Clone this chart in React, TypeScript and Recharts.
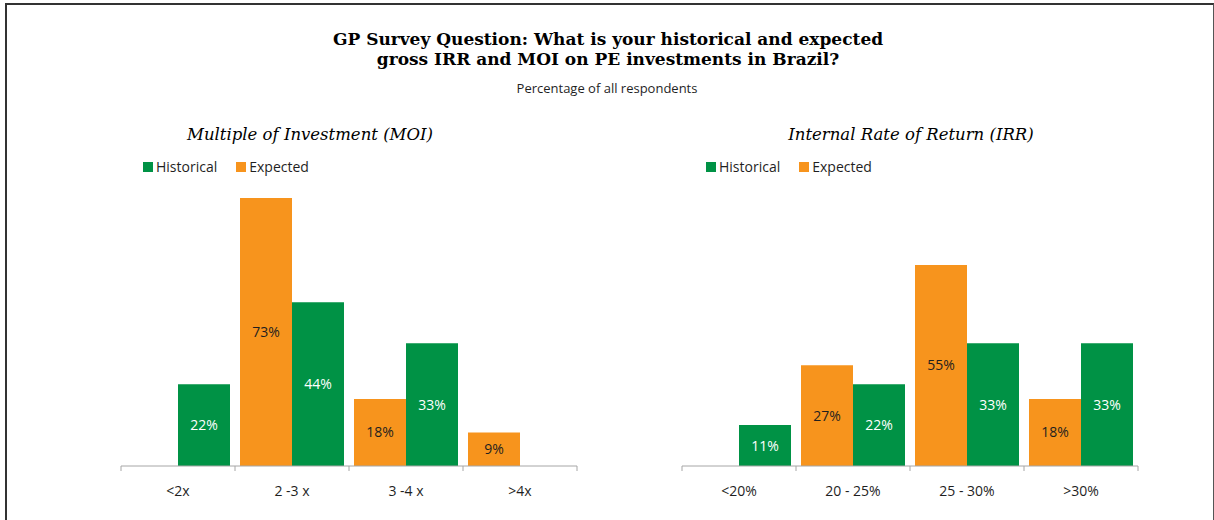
import React from 'react';
import { BarChart, Bar, XAxis, YAxis, Legend, LabelList } from 'recharts';

// values (share of respondents, %)
const moiCategories = ['<2x', '2 -3 x', '3 -4 x', '>4x'];
const moiHistorical = [22.2, 44.4, 33.3, 0];
const moiExpected = [0, 72.7, 18.2, 9.1];

const irrCategories = ['<20%', '20 - 25%', '25 - 30%', '>30%'];
const irrHistorical = [11.1, 22.2, 33.3, 33.3];
const irrExpected = [0, 27.3, 54.5, 18.2];

const seriesNames = ['Historical', 'Expected'];

const GREEN = '#009245';
const ORANGE = '#F7941D';
const AXIS = '#a6a6a6';
const TEXT = '#1f1f1f';
const SANS = '"Open Sans", "Noto Sans", sans-serif';
const SERIF = '"DejaVu Serif", serif';

const CHART_W = 460;
const CHART_H = 366;
const MARGIN = { top: 21, right: 2, bottom: 0, left: 2 };
const PLOT_H = 295;
const AXIS_Y = MARGIN.top + PLOT_H;
const BAND = (CHART_W - MARGIN.left - MARGIN.right) / 4;

const buildRows = (cats: string[], hist: number[], exp: number[]) =>
    cats.map((name, i) => ({ name, Historical: hist[i], Expected: exp[i] }));

const pct = (v: any) => (v ? `${Math.round(Number(v))}%` : '');

const CategoryTick = (props: any) => {
    const { x, payload, index, visibleTicksCount } = props;
    const half = payload?.offset || BAND / 2;
    const isLast = index === (visibleTicksCount ?? 4) - 1;
    return (
        <g>
            <line x1={x - half} x2={x - half} y1={AXIS_Y} y2={AXIS_Y + 5} stroke={AXIS} />
            {isLast && <line x1={x + half} x2={x + half} y1={AXIS_Y} y2={AXIS_Y + 5} stroke={AXIS} />}
            <text
                x={x}
                y={AXIS_Y + 26}
                textAnchor="middle"
                dominantBaseline="middle"
                fill={TEXT}
                fontSize={14}
                fontFamily={SANS}
            >
                {payload.value}
            </text>
        </g>
    );
};

const LegendContent = (props: any) => {
    const items = [...(props.payload || [])].sort(
        (a: any, b: any) => seriesNames.indexOf(a.value) - seriesNames.indexOf(b.value)
    );
    return (
        <div style={{ display: 'flex', alignItems: 'center', fontFamily: SANS, fontSize: 14, color: TEXT }}>
            {items.map((item: any, i: number) => (
                <div key={item.value} style={{ display: 'flex', alignItems: 'center', marginRight: i === 0 ? 19 : 0 }}>
                    <span style={{ width: 10, height: 10, background: item.color, marginRight: 3, display: 'inline-block' }} />
                    <span>{item.value}</span>
                </div>
            ))}
        </div>
    );
};

const SurveyBars = ({ data, legendLeft }: { data: any[]; legendLeft: number }) => (
    <BarChart width={CHART_W} height={CHART_H} data={data} margin={MARGIN} barCategoryGap={5} barGap={0}>
        <XAxis
            dataKey="name"
            axisLine={{ stroke: AXIS }}
            tickLine={false}
            tick={<CategoryTick />}
            height={CHART_H - AXIS_Y}
            interval={0}
        />
        <YAxis hide domain={[0, 80]} />
        <Legend
            layout="horizontal"
            align="center"
            verticalAlign="middle"
            content={<LegendContent />}
            wrapperStyle={{ top: 7, left: legendLeft, width: 'auto' }}
        />
        <Bar dataKey="Expected" name="Expected" fill={ORANGE} isAnimationActive={false}>
            <LabelList dataKey="Expected" position="center" formatter={pct} fill={TEXT} fontSize={14} fontFamily={SANS} />
        </Bar>
        <Bar dataKey="Historical" name="Historical" fill={GREEN} isAnimationActive={false}>
            <LabelList dataKey="Historical" position="center" formatter={pct} fill="#ffffff" fontSize={14} fontFamily={SANS} />
        </Bar>
    </BarChart>
);

export default function App() {
    const moiRows = buildRows(moiCategories, moiHistorical, moiExpected);
    const irrRows = buildRows(irrCategories, irrHistorical, irrExpected);

    return (
        <div style={{ position: 'absolute', left: 0, top: 0, width: 1214, height: 520, background: '#fff', overflow: 'hidden' }}>
            <div style={{ position: 'absolute', left: 5, top: 3, width: 1209, height: 540, border: '2px solid #333', borderRight: '1px solid #555', boxSizing: 'border-box' }} />

            <div style={{ position: 'absolute', left: 0, top: 29, width: 1216, textAlign: 'center', fontFamily: SERIF, fontWeight: 'bold', fontSize: 17, lineHeight: '20px', color: '#000' }}>
                GP Survey Question: What is your historical and expected
                <br />
                gross IRR and MOI on PE investments in Brazil?
            </div>
            <div style={{ position: 'absolute', left: 0, top: 79, width: 1214, textAlign: 'center', fontFamily: SANS, fontSize: 13, color: TEXT }}>
                Percentage of all respondents
            </div>

            <div style={{ position: 'absolute', left: 160, top: 125, width: 300, textAlign: 'center', fontFamily: SERIF, fontStyle: 'italic', fontSize: 16.5, color: '#000' }}>
                Multiple of Investment (MOI)
            </div>
            <div style={{ position: 'absolute', left: 761, top: 125, width: 300, textAlign: 'center', fontFamily: SERIF, fontStyle: 'italic', fontSize: 16.5, color: '#000' }}>
                Internal Rate of Return (IRR)
            </div>

            <div style={{ position: 'absolute', left: 119, top: 150 }}>
                <SurveyBars data={moiRows} legendLeft={24} />
            </div>
            <div style={{ position: 'absolute', left: 680, top: 150 }}>
                <SurveyBars data={irrRows} legendLeft={26} />
            </div>
        </div>
    );
}
